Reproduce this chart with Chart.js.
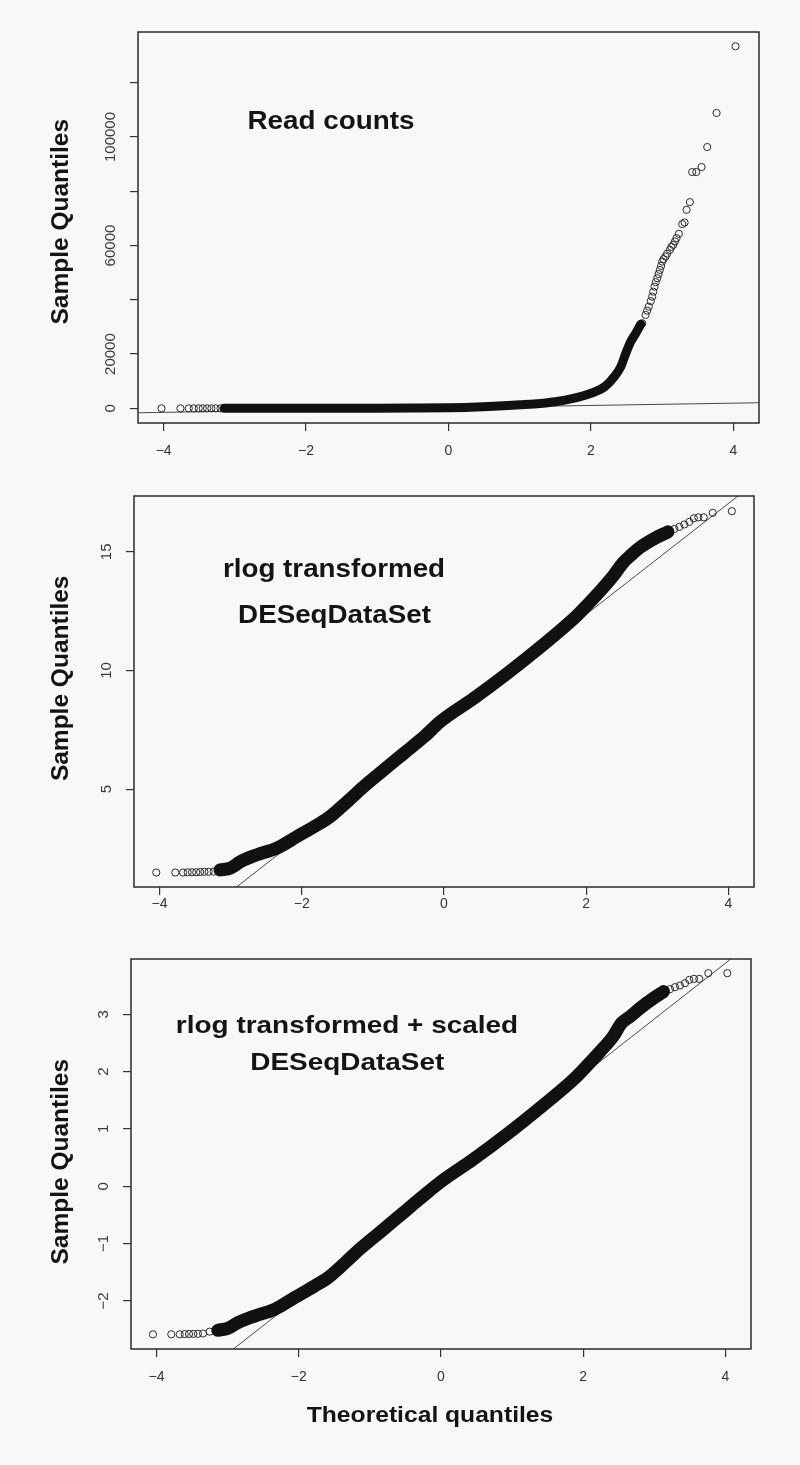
<!DOCTYPE html>
<html>
<head>
<meta charset="utf-8">
<title>Q-Q plots</title>
<script src="https://cdn.jsdelivr.net/npm/chart.js@4/dist/chart.umd.min.js"></script>
<style>
  html, body { margin: 0; padding: 0; background: #f8f8f8; }
  #wrap { position: relative; width: 800px; height: 1465px; }
  canvas { position: absolute; left: 0; }
</style>
</head>
<body>
<div id="wrap">
  <canvas id="qqCounts" width="800" height="465" style="top:0"></canvas>
  <canvas id="qqRlog" width="800" height="465" style="top:465px"></canvas>
  <canvas id="qqScaled" width="800" height="535" style="top:930px"></canvas>
</div>
<script>
// ---- shared axis ticks ----
const xTicks = [-4, -2, 0, 2, 4];

// ---- panel 1: raw read counts ----
const countsBandX = [-3.15, -2.5, -2.0, -1.5, -1.0, -0.5, 0.0, 0.3, 0.7, 1.0, 1.2, 1.5, 1.75, 2.0, 2.2, 2.33, 2.42, 2.49, 2.56, 2.63, 2.7];
const countsBandY = [0, 5, 10, 30, 60, 130, 250, 420, 850, 1300, 1600, 2450, 3650, 5550, 8100, 11700, 15400, 20300, 24600, 27700, 31000];
const countsPtsX = [-4.03, -3.764, -3.647, -3.577, -3.507, -3.45, -3.39, -3.33, -3.27, -3.2,
  2.72, 2.767, 2.79, 2.813, 2.84, 2.86, 2.875, 2.893, 2.91, 2.931, 2.95, 2.968, 2.985, 3.001, 3.02, 3.048, 3.07, 3.109, 3.13, 3.156, 3.18,
  3.202, 3.235, 3.282, 3.315, 3.343, 3.39, 3.422, 3.479, 3.553, 3.633, 3.764, 4.03];
const countsPtsY = [0, 0, 0, 0, 0, 0, 0, 0, 0, 0,
  31370, 34430, 36000, 37490, 39500, 41180, 43000, 44870, 46500, 47970, 49500, 51030, 52500, 54100, 55000, 55940, 57000, 58410, 59500, 60260, 61500,
  62730, 64320, 67900, 68490, 73170, 76010, 87080, 87080, 88930, 96310, 108860, 133430];
const countsLineX = [-4.4, 4.4];
const countsLineY = [-1645, 2083];
const countsYTicks = [0, 20000, 40000, 60000, 80000, 100000, 120000];
const countsYLabels = [0, 20000, 60000, 100000];

// ---- panel 2: rlog transformed ----
const rlogBandX = [-3.15, -3.0, -2.86, -2.63, -2.35, -2.07, -1.78, -1.6, -1.36, -1.13, -0.85, -0.56, -0.28, -0.05, 0.42, 0.89, 1.36, 1.83, 1.97, 2.21, 2.39, 2.51, 2.63, 2.77, 2.96, 3.15];
const rlogBandY = [1.60, 1.68, 1.95, 2.24, 2.52, 3.0, 3.5, 3.85, 4.48, 5.11, 5.81, 6.52, 7.21, 7.85, 8.83, 9.88, 11.0, 12.2, 12.62, 13.39, 14.02, 14.51, 14.86, 15.21, 15.56, 15.84];
const rlogPtsX = [-4.047, -3.779, -3.67, -3.605, -3.544, -3.485, -3.43, -3.37, -3.31, -3.24,
  3.24, 3.31, 3.38, 3.45, 3.513, 3.577, 3.653, 3.78, 4.048];
const rlogPtsY = [1.49, 1.49, 1.49, 1.50, 1.50, 1.50, 1.51, 1.52, 1.52, 1.53,
  15.96, 16.05, 16.15, 16.26, 16.41, 16.45, 16.45, 16.64, 16.71];
const rlogLineX = [-4.4, 4.4];
const rlogLineY = [-2.58, 17.97];
const rlogYTicks = [5, 10, 15];

// ---- panel 3: rlog transformed + scaled ----
const scaledBandX = [-3.14, -3.0, -2.855, -2.62, -2.34, -2.06, -1.78, -1.59, -1.35, -1.12, -0.84, -0.56, -0.28, 0.0, 0.45, 0.92, 1.39, 1.86, 2.0, 2.24, 2.42, 2.54, 2.66, 2.8, 2.99, 3.13];
const scaledBandY = [-2.514, -2.48, -2.38, -2.265, -2.148, -1.944, -1.742, -1.596, -1.335, -1.073, -0.784, -0.493, -0.202, 0.08, 0.465, 0.9, 1.366, 1.859, 2.033, 2.352, 2.613, 2.847, 2.962, 3.108, 3.282, 3.397];
const scaledPtsX = [-4.051, -3.793, -3.675, -3.605, -3.544, -3.484, -3.418, -3.347, -3.253,
  3.221, 3.291, 3.361, 3.432, 3.492, 3.558, 3.633, 3.76, 4.027];
const scaledPtsY = [-2.584, -2.584, -2.584, -2.58, -2.578, -2.576, -2.575, -2.57, -2.537,
  3.439, 3.474, 3.502, 3.543, 3.601, 3.618, 3.618, 3.718, 3.718];
const scaledLineX = [-4.4, 4.4];
const scaledLineY = [-4.28, 4.28];
const scaledYTicks = [-2, -1, 0, 1, 2, 3];

const FONT = '"Liberation Sans", Arial, Helvetica, sans-serif';
Chart.defaults.font.family = FONT;

function pairs(xs, ys) {
  return xs.map((x, i) => ({ x: x, y: ys[i] }));
}

function fmt(v) {
  return String(v).replace("-", "\u2212");
}

// box, rotated y labels and free text, drawn the way base R lays them out
const panelDecor = {
  id: "panelDecor",
  afterDraw(chart, args, opts) {
    const ctx = chart.ctx;
    const a = chart.chartArea;
    ctx.save();

    ctx.strokeStyle = "#2a2a2a";
    ctx.lineWidth = 1.5;
    ctx.strokeRect(a.left, a.top, a.right - a.left, a.bottom - a.top);

    const ys = chart.scales.y;
    ctx.fillStyle = "#3a3a3a";
    ctx.font = "15px " + FONT;
    ctx.textAlign = "center";
    ctx.textBaseline = "middle";
    (opts.yLabels || []).forEach((v) => {
      ctx.save();
      ctx.translate(a.left - 27.4, ys.getPixelForValue(v));
      ctx.rotate(-Math.PI / 2);
      ctx.fillText(fmt(v), 0, 0);
      ctx.restore();
    });

    // "Sample Quantiles"
    ctx.fillStyle = "#141414";
    ctx.font = "bold 24.5px " + FONT;
    ctx.textBaseline = "alphabetic";
    ctx.save();
    ctx.translate(67.5, opts.yTitleAt);
    ctx.rotate(-Math.PI / 2);
    ctx.fillText("Sample Quantiles", 0, 0);
    ctx.restore();

    (opts.notes || []).forEach((n) => {
      ctx.save();
      ctx.translate(n.x, n.y);
      ctx.scale(n.sx || 1, 1);
      ctx.font = "bold " + n.size + "px " + FONT;
      ctx.fillText(n.text, 0, 0);
      ctx.restore();
    });

    ctx.restore();
  },
};

function makePanel(id, p) {
  const el = document.getElementById(id);
  return new Chart(el.getContext("2d"), {
    type: "scatter",
    data: {
      // first dataset is painted last, so the solid band sits on top
      datasets: [
        {
          // dense middle where the circles merge into a solid band
          data: pairs(p.bandX, p.bandY),
          showLine: true,
          borderColor: "#111111",
          borderWidth: p.bandWidth,
          borderCapStyle: "round",
          borderJoinStyle: "round",
          cubicInterpolationMode: "monotone",
          pointRadius: 0,
        },
        {
          // sparse tails, open circles
          data: pairs(p.ptsX, p.ptsY),
          pointStyle: "circle",
          pointRadius: 3.6,
          borderWidth: 1,
          borderColor: "#2b2b2b",
          backgroundColor: "rgba(0,0,0,0)",
        },
        {
          // qqline
          data: pairs(p.lineX, p.lineY),
          showLine: true,
          borderColor: "#4a4a4a",
          borderWidth: 1,
          pointRadius: 0,
        },
      ],
    },
    options: {
      responsive: false,
      animation: false,
      events: [],
      layout: { autoPadding: false, padding: p.padding },
      plugins: {
        legend: { display: false },
        tooltip: { enabled: false },
        panelDecor: { yLabels: p.yLabels, yTitleAt: p.yTitleAt, notes: p.notes },
      },
      scales: {
        x: {
          type: "linear",
          min: -4.36,
          max: 4.36,
          afterBuildTicks: (s) => { s.ticks = xTicks.map((v) => ({ value: v })); },
          afterFit: (s) => { s.height = 40; },
          border: { display: false },
          grid: { drawOnChartArea: false, drawTicks: true, tickLength: 8, tickColor: "#333", lineWidth: 1.2 },
          ticks: {
            color: "#333",
            font: { size: 14 },
            padding: p.xPad,
            maxRotation: 0,
            callback: (v) => fmt(v),
          },
        },
        y: {
          type: "linear",
          min: p.yMin,
          max: p.yMax,
          afterBuildTicks: (s) => { s.ticks = p.yTicks.map((v) => ({ value: v })); },
          afterFit: (s) => { s.width = 10; },
          border: { display: false },
          grid: { drawOnChartArea: false, drawTicks: true, tickLength: 8, tickColor: "#333", lineWidth: 1.2 },
          ticks: { display: false },
        },
      },
    },
    plugins: [panelDecor],
  });
}

makePanel("qqCounts", {
  bandX: countsBandX, bandY: countsBandY, ptsX: countsPtsX, ptsY: countsPtsY,
  lineX: countsLineX, lineY: countsLineY,
  yTicks: countsYTicks, yLabels: countsYLabels,
  yMin: -5400, yMax: 138700,
  bandWidth: 9,
  xPad: 12,
  padding: { left: 128, right: 41, top: 32, bottom: 2 },
  yTitleAt: 221.7,
  notes: [{ text: "Read counts", x: 331, y: 129.3, size: 26, sx: 1.07 }],
});

makePanel("qqRlog", {
  bandX: rlogBandX, bandY: rlogBandY, ptsX: rlogPtsX, ptsY: rlogPtsY,
  lineX: rlogLineX, lineY: rlogLineY,
  yTicks: rlogYTicks, yLabels: rlogYTicks,
  yMin: 0.88, yMax: 17.35,
  bandWidth: 13,
  xPad: 1,
  padding: { left: 124, right: 46, top: 31, bottom: 3 },
  yTitleAt: 213.3,
  notes: [
    { text: "rlog transformed", x: 334, y: 112.3, size: 25, sx: 1.11 },
    { text: "DESeqDataSet", x: 334.5, y: 158.3, size: 25, sx: 1.11 },
  ],
});

makePanel("qqScaled", {
  bandX: scaledBandX, bandY: scaledBandY, ptsX: scaledPtsX, ptsY: scaledPtsY,
  lineX: scaledLineX, lineY: scaledLineY,
  yTicks: scaledYTicks, yLabels: scaledYTicks,
  yMin: -2.84, yMax: 3.965,
  bandWidth: 13,
  xPad: 12,
  padding: { left: 121, right: 49, top: 29, bottom: 76 },
  yTitleAt: 231.7,
  notes: [
    { text: "rlog transformed + scaled", x: 347, y: 103.3, size: 24.5, sx: 1.14 },
    { text: "DESeqDataSet", x: 347.3, y: 140, size: 24.5, sx: 1.14 },
    { text: "Theoretical quantiles", x: 430, y: 491.7, size: 22, sx: 1.12 },
  ],
});
</script>
</body>
</html>
